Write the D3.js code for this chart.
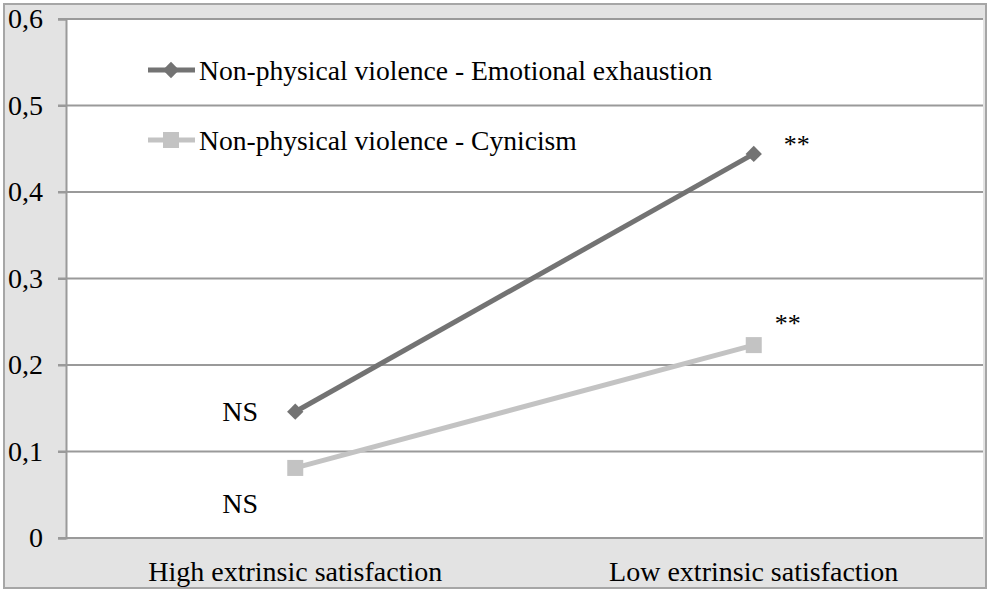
<!DOCTYPE html>
<html>
<head>
<meta charset="utf-8">
<script src="https://cdn.jsdelivr.net/npm/d3@7"></script>
<style>
  body { margin: 0; background: #fff; }
</style>
</head>
<body>
<svg id="canvas" width="992" height="594"></svg>
<script>
let categories = ['High extrinsic satisfaction', 'Low extrinsic satisfaction']
let seriesNames = ['Non-physical violence - Emotional exhaustion', 'Non-physical violence - Cynicism']
let exhaustion = [0.146, 0.444]
let cynicism = [0.081, 0.223]
let signifExhaustion = ['NS', '**']
let signifCynicism = ['NS', '**']
let yTicks = [0, 0.1, 0.2, 0.3, 0.4, 0.5, 0.6]

let serif = "'Liberation Serif', 'Times New Roman', Times, 'DejaVu Serif', serif"
let svg = d3.select('#canvas').attr('font-family', serif)
let margin = { top: 19, right: 9, bottom: 56, left: 66 }
let width = 992 - margin.left - margin.right
let height = 594 - margin.top - margin.bottom
let fontSize = 28

// outer frame
svg.append('rect')
  .attr('x', 4).attr('y', 4)
  .attr('width', 982).attr('height', 584)
  .attr('fill', '#e3e3e3')
  .attr('stroke', '#a6a6a6')
  .attr('stroke-width', 2)

let g = svg.append('g')
  .attr('transform', 'translate(' + margin.left + ',' + margin.top + ')')

g.append('rect')
  .attr('width', width).attr('height', height)
  .attr('fill', '#fff')

let x = d3.scalePoint()
  .domain(categories)
  .range([0, width])
  .padding(0.5)

let y = d3.scaleLinear()
  .domain([0, 0.6])
  .range([height, 0])

// grid lines
g.selectAll('.grid')
  .data(yTicks)
  .enter()
  .append('line')
  .attr('class', 'grid')
  .attr('x1', -8).attr('x2', width)
  .attr('y1', d => y(d)).attr('y2', d => y(d))
  .attr('stroke', '#9a9a9a')
  .attr('stroke-width', 2)

// y axis
let yAxis = g.append('g')
  .call(d3.axisLeft(y).tickValues(yTicks).tickSize(8).tickFormat(d => d === 0 ? '0' : d3.format('.1f')(d).replace('.', ',')))
yAxis.attr('font-family', serif)
yAxis.select('.domain').attr('stroke', '#9a9a9a').attr('stroke-width', 2)
yAxis.selectAll('.tick line').attr('stroke', '#9a9a9a').attr('stroke-width', 2)
yAxis.selectAll('.tick text')
  .attr('x', -23)
  .attr('font-family', serif)
  .attr('font-size', fontSize)
  .attr('fill', '#000')

// x labels
g.selectAll('.xlab')
  .data(categories)
  .enter()
  .append('text')
  .attr('class', 'xlab')
  .attr('x', d => x(d))
  .attr('y', height + 43)
  .attr('text-anchor', 'middle')
  .attr('font-family', serif)
  .attr('font-size', fontSize)
  .text(d => d)

let line = d3.line()
  .x((d, i) => x(categories[i]))
  .y(d => y(d))

let darkColor = '#737373'
let lightColor = '#c3c3c3'

g.append('path')
  .datum(cynicism)
  .attr('d', line)
  .attr('fill', 'none')
  .attr('stroke', lightColor)
  .attr('stroke-width', 5)

g.selectAll('.sq')
  .data(cynicism)
  .enter()
  .append('rect')
  .attr('class', 'sq')
  .attr('x', (d, i) => x(categories[i]) - 8)
  .attr('y', d => y(d) - 8)
  .attr('width', 16).attr('height', 16)
  .attr('fill', lightColor)

g.append('path')
  .datum(exhaustion)
  .attr('d', line)
  .attr('fill', 'none')
  .attr('stroke', darkColor)
  .attr('stroke-width', 5)

let diamond = d3.symbol().type(d3.symbolDiamond2).size(170)
g.selectAll('.dia')
  .data(exhaustion)
  .enter()
  .append('path')
  .attr('class', 'dia')
  .attr('transform', (d, i) => 'translate(' + x(categories[i]) + ',' + y(d) + ')')
  .attr('d', diamond)
  .attr('fill', darkColor)

// significance labels
g.selectAll('.sigE')
  .data(exhaustion)
  .enter()
  .append('text')
  .attr('x', (d, i) => x(categories[i]) + (i === 0 ? -55 : 43))
  .attr('y', (d, i) => y(d) + (i === 0 ? 9 : -1))
  .attr('text-anchor', 'middle')
  .attr('font-family', serif)
  .attr('font-size', (d, i) => i === 0 ? fontSize : 26)
  .text((d, i) => signifExhaustion[i])

g.selectAll('.sigC')
  .data(cynicism)
  .enter()
  .append('text')
  .attr('x', (d, i) => x(categories[i]) + (i === 0 ? -55 : 34))
  .attr('y', (d, i) => y(d) + (i === 0 ? 45 : -13))
  .attr('text-anchor', 'middle')
  .attr('font-family', serif)
  .attr('font-size', (d, i) => i === 0 ? fontSize : 26)
  .text((d, i) => signifCynicism[i])

// legend
let legend = svg.append('g')
let legendY = [70, 140]
let legendColors = [darkColor, lightColor]
seriesNames.forEach((name, i) => {
  let row = legend.append('g').attr('transform', 'translate(148,' + legendY[i] + ')')
  row.append('line')
    .attr('x1', 0).attr('x2', 47)
    .attr('stroke', legendColors[i])
    .attr('stroke-width', 5)
  if (i === 0) {
    row.append('path')
      .attr('transform', 'translate(23,0)')
      .attr('d', diamond)
      .attr('fill', legendColors[i])
  } else {
    row.append('rect')
      .attr('x', 15).attr('y', -8)
      .attr('width', 16).attr('height', 16)
      .attr('fill', legendColors[i])
  }
  row.append('text')
    .attr('x', 51)
    .attr('y', 10)
    .attr('font-family', serif)
    .attr('font-size', 27.6)
    .text(name)
})
</script>
</body>
</html>
